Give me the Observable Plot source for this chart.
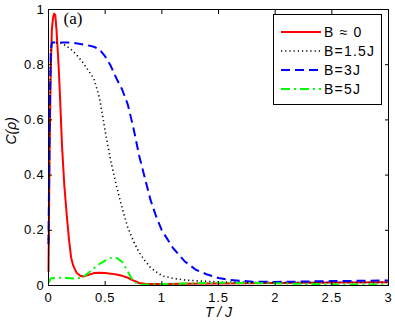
<!DOCTYPE html>
<html><head><meta charset="utf-8">
<script src="https://cdn.jsdelivr.net/npm/d3@7"></script>
<script src="https://cdn.jsdelivr.net/npm/@observablehq/plot@0.6"></script>
<style>body{margin:0;background:#fff}</style>
</head><body><div id="chart"></div>
<script>
// B ≈ 0
const T0 = [0, 0.01, 0.02, 0.03, 0.04, 0.05, 0.06, 0.07, 0.08, 0.09, 0.10, 0.11, 0.12, 0.14, 0.16, 0.18, 0.20, 0.22, 0.25, 0.28, 0.31, 0.35, 0.40, 0.45, 0.50, 0.55, 0.60, 0.65, 0.70, 0.75, 0.80, 0.85, 0.90, 1.0, 1.2, 1.5, 2.0, 2.5, 3.0];
const C0 = [0.05, 0.50, 0.78, 0.93, 0.97, 0.985, 0.98, 0.93, 0.86, 0.79, 0.70, 0.60, 0.50, 0.36, 0.26, 0.17, 0.10, 0.07, 0.045, 0.035, 0.033, 0.038, 0.045, 0.046, 0.045, 0.043, 0.040, 0.035, 0.028, 0.018, 0.009, 0.006, 0.005, 0.005, 0.006, 0.007, 0.009, 0.011, 0.012];
// B = 1.5J
const T1 = [0, 0.01, 0.02, 0.03, 0.05, 0.10, 0.15, 0.20, 0.25, 0.30, 0.35, 0.40, 0.45, 0.50, 0.55, 0.60, 0.65, 0.70, 0.75, 0.80, 0.85, 0.90, 1.0, 1.1, 1.2, 1.3, 1.5, 2.0, 2.5, 3.0];
const C1 = [0.15, 0.60, 0.85, 0.88, 0.88, 0.88, 0.87, 0.855, 0.835, 0.81, 0.78, 0.75, 0.68, 0.56, 0.45, 0.36, 0.28, 0.21, 0.16, 0.12, 0.09, 0.065, 0.035, 0.026, 0.020, 0.017, 0.013, 0.011, 0.011, 0.011];
// B = 3J
const T2 = [0, 0.01, 0.02, 0.03, 0.10, 0.20, 0.28, 0.35, 0.40, 0.45, 0.50, 0.55, 0.60, 0.65, 0.70, 0.75, 0.80, 0.85, 0.90, 0.95, 1.0, 1.1, 1.2, 1.3, 1.4, 1.5, 1.6, 1.8, 2.0, 2.2, 2.5, 3.0];
const C2 = [0.15, 0.60, 0.85, 0.88, 0.88, 0.88, 0.875, 0.87, 0.865, 0.855, 0.83, 0.795, 0.75, 0.71, 0.655, 0.57, 0.47, 0.39, 0.31, 0.25, 0.20, 0.135, 0.088, 0.057, 0.040, 0.027, 0.020, 0.014, 0.013, 0.014, 0.016, 0.018];
// B = 5J
const T3 = [0, 0.02, 0.05, 0.10, 0.15, 0.20, 0.25, 0.30, 0.35, 0.40, 0.45, 0.50, 0.55, 0.60, 0.65, 0.70, 0.75, 0.80, 0.90, 1.0, 1.2, 1.5, 2.0, 2.5, 3.0];
const C3 = [0.01, 0.025, 0.027, 0.028, 0.027, 0.026, 0.025, 0.030, 0.045, 0.062, 0.078, 0.090, 0.100, 0.100, 0.085, 0.050, 0.015, 0.003, 0.004, 0.005, 0.007, 0.010, 0.008, 0.004, 0.003];

const seriesNames = ["B \u2248 0", "B=1.5J", "B=3J", "B=5J"];
const xTicks = [0, 0.5, 1, 1.5, 2, 2.5, 3];
const xTickLabels = ["0", "0.5", "1", "1.5", "2", "2.5", "3"];
const yTicks = [0, 0.2, 0.4, 0.6, 0.8, 1];
const yTickLabels = ["0", "0.2", "0.4", "0.6", "0.8", "1"];

const styles = [
  {color: "#ff0000", dash: null, width: 2},
  {color: "#000000", dash: "1.2,3", width: 1.6},
  {color: "#0000ff", dash: "9,5", width: 2},
  {color: "#00ff00", dash: "9,4,2,4", width: 2}
];
const Ts = [T0, T1, T2, T3], Cs = [C0, C1, C2, C3];
const tables = Ts.map((T, k) => T.map((t, i) => ({T: t, C: Cs[k][i], s: seriesNames[k]})));

const plot = Plot.plot({
  width: 395, height: 329,
  marginLeft: 48, marginRight: 7, marginTop: 9, marginBottom: 44,
  style: {fontFamily: "Liberation Sans, Arial, sans-serif", fontSize: "13px", background: "#fff", color: "#000"},
  x: {domain: [0, 3]},
  y: {domain: [0, 1]},
  marks: [
    ...tables.map((d, k) => Plot.line(d, {x: "T", y: "C", stroke: styles[k].color, strokeWidth: styles[k].width, strokeDasharray: styles[k].dash, strokeLinecap: "butt"})),
    Plot.frame({stroke: "#000", strokeWidth: 1}),
    Plot.axisX({anchor: "bottom", ticks: xTicks, tickSize: 0, tickPadding: 7, tickFormat: d => xTickLabels[xTicks.indexOf(d)], label: null, fill: "#000", fontSize: 13}),
    Plot.axisX({anchor: "bottom", ticks: xTicks, tickSize: 4, dy: -4, text: null, label: null, stroke: "#000"}),
    Plot.axisX({anchor: "top", ticks: xTicks, tickSize: 4, dy: 4, text: null, label: null, stroke: "#000"}),
    Plot.axisY({anchor: "left", ticks: yTicks, tickSize: 0, tickPadding: 4, tickFormat: d => yTickLabels[yTicks.indexOf(d)], label: null, fill: "#000", fontSize: 13}),
    Plot.axisY({anchor: "left", ticks: yTicks, tickSize: 4, dx: 4, text: null, label: null, stroke: "#000"}),
    Plot.axisY({anchor: "right", ticks: yTicks, tickSize: 4, dx: -4, text: null, label: null, stroke: "#000"}),
    Plot.text(["T / J"], {frameAnchor: "bottom", dy: 31, fontStyle: "italic", fontSize: 14, fill: "#000", ariaLabel: "xlabel"}),
    Plot.text(["C(\u03c1)"], {frameAnchor: "left", dx: -37, dy: -3, rotate: -90, fontStyle: "italic", fontSize: 14, fill: "#000", ariaLabel: "ylabel"}),
    Plot.text(["(a)"], {frameAnchor: "top-left", dx: 15, dy: 9.5, textAnchor: "start", lineAnchor: "middle", fontFamily: "Liberation Serif, Times New Roman, serif", fontSize: 17, fill: "#000"})
  ]
});
document.getElementById("chart").appendChild(plot);

const svg = d3.select(plot);
svg.selectAll('g[aria-label="x-axis tick label"] text, g[aria-label="y-axis tick label"] text').attr("letter-spacing", "0.8px");
svg.selectAll('g[aria-label="xlabel"] text').attr("letter-spacing", "1px");
svg.selectAll('g[aria-label="ylabel"] text').attr("letter-spacing", "2px");

// legend
const lg = svg.append("g");
lg.append("rect").attr("x", 273.5).attr("y", 14.5).attr("width", 108).attr("height", 90)
  .attr("fill", "#fff").attr("stroke", "#000");
seriesNames.forEach((name, k) => {
  const y = 32 + k * 19;
  lg.append("line").attr("x1", 281).attr("x2", 321).attr("y1", y).attr("y2", y)
    .attr("stroke", styles[k].color).attr("stroke-width", styles[k].width)
    .attr("stroke-dasharray", styles[k].dash);
  lg.append("text").attr("x", 324).attr("y", y).attr("dy", "0.35em")
    .attr("text-anchor", "start").attr("letter-spacing", "1.2px")
    .attr("font-family", "Liberation Sans, Arial, sans-serif").attr("font-size", 14).attr("fill", "#000").text(name);
});
</script>
</body></html>
